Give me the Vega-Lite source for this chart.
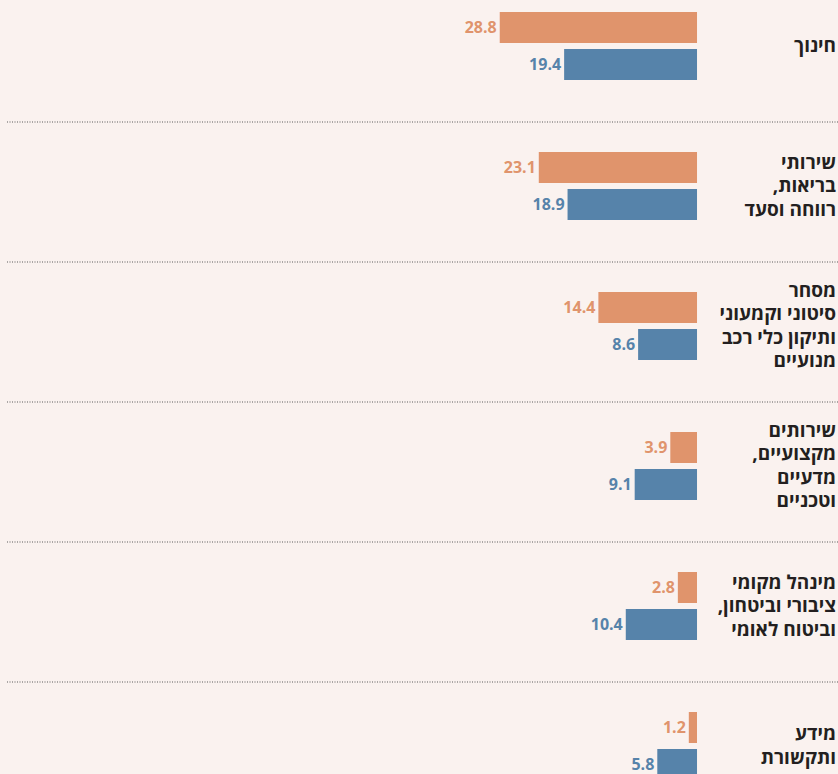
{
  "$schema": "https://vega.github.io/schema/vega-lite/v6.json",
  "width": 831,
  "height": 774,
  "autosize": "none",
  "padding": {"left": 7, "top": 0, "right": 0, "bottom": 0},
  "background": "#FAF2EF",
  "config": {"view": {"stroke": null}, "font": "Open Sans"},
  "datasets": {
    "bars": [
      {"cat": "חינוך", "series": "A", "value": 28.8},
      {"cat": "חינוך", "series": "B", "value": 19.4},
      {"cat": "בריאות", "series": "A", "value": 23.1},
      {"cat": "בריאות", "series": "B", "value": 18.9},
      {"cat": "מסחר", "series": "A", "value": 14.4},
      {"cat": "מסחר", "series": "B", "value": 8.6},
      {"cat": "מקצועיים", "series": "A", "value": 3.9},
      {"cat": "מקצועיים", "series": "B", "value": 9.1},
      {"cat": "מינהל", "series": "A", "value": 2.8},
      {"cat": "מינהל", "series": "B", "value": 10.4},
      {"cat": "מידע", "series": "A", "value": 1.2},
      {"cat": "מידע", "series": "B", "value": 5.8}
    ],
    "cats": [
      {"cat": "חינוך", "label": "חינוך", "lines": 1},
      {"cat": "בריאות", "label": "שירותי\nבריאות,\u200f\nרווחה וסעד", "lines": 3},
      {"cat": "מסחר", "label": "מסחר\nסיטוני וקמעוני\nותיקון כלי רכב\nמנועיים", "lines": 4},
      {"cat": "מקצועיים", "label": "שירותים\nמקצועיים,\u200f\nמדעיים\nוטכניים", "lines": 4},
      {"cat": "מינהל", "label": "מינהל מקומי\nציבורי וביטחון,\u200f\nוביטוח לאומי", "lines": 3},
      {"cat": "מידע", "label": "מידע\nותקשורת", "lines": 2}
    ]
  },
  "resolve": {"scale": {"yOffset": "independent"}},
  "layer": [
    {
      "layer": [
        {
          "data": {"name": "cats"},
          "mark": {"type": "rule", "strokeDash": [1, 1.5], "strokeWidth": 1.2, "color": "#5a5a5a"},
          "encoding": {
            "y": {"field": "cat", "type": "nominal", "bandPosition": 1,
                  "sort": ["חינוך", "בריאות", "מסחר", "מקצועיים", "מינהל", "מידע"],
                  "scale": {"range": [-18, 822], "paddingInner": 0, "paddingOuter": 0}, "axis": null}
          }
        },
        {
          "data": {"name": "bars"},
          "mark": {"type": "bar"},
          "encoding": {
            "y": {"field": "cat", "type": "nominal",
                  "sort": ["חינוך", "בריאות", "מסחר", "מקצועיים", "מינהל", "מידע"], "axis": null},
            "yOffset": {"field": "series", "type": "nominal",
                        "scale": {"domain": ["A", "B"], "paddingInner": 0.162, "paddingOuter": 0.973, "align": 0.417}},
            "x": {"field": "value", "type": "quantitative",
                  "scale": {"domain": [-20.58, 100.73], "reverse": true, "nice": false, "zero": false}, "axis": null},
            "x2": {"datum": 0},
            "color": {"field": "series", "type": "nominal",
                      "scale": {"domain": ["A", "B"], "range": ["#E0946C", "#5683AA"]}, "legend": null}
          }
        },
        {
          "data": {"name": "bars"},
          "mark": {"type": "text", "align": "right", "baseline": "middle", "dx": -3, "fontSize": 16, "fontWeight": "bold"},
          "encoding": {
            "y": {"field": "cat", "type": "nominal",
                  "sort": ["חינוך", "בריאות", "מסחר", "מקצועיים", "מינהל", "מידע"], "axis": null},
            "yOffset": {"field": "series", "type": "nominal"},
            "x": {"field": "value", "type": "quantitative"},
            "text": {"field": "value", "type": "quantitative", "format": ".1f"},
            "color": {"field": "series", "type": "nominal", "legend": null}
          }
        }
      ]
    },
    {
      "data": {"name": "cats"},
      "mark": {"type": "text", "align": "right", "baseline": "middle", "fontSize": 19, "fontWeight": "bold",
               "lineBreak": "\n", "lineHeight": 23.5, "color": "#231F20"},
      "encoding": {
        "y": {"field": "cat", "type": "nominal",
              "sort": ["חינוך", "בריאות", "מסחר", "מקצועיים", "מינהל", "מידע"], "axis": null},
        "yOffset": {"field": "lines", "type": "quantitative",
                    "scale": {"domain": [1, 4], "range": [64, 28.75], "zero": false, "nice": false}},
        "x": {"datum": -20.3, "type": "quantitative"},
        "text": {"field": "label", "type": "nominal"}
      }
    }
  ]
}
